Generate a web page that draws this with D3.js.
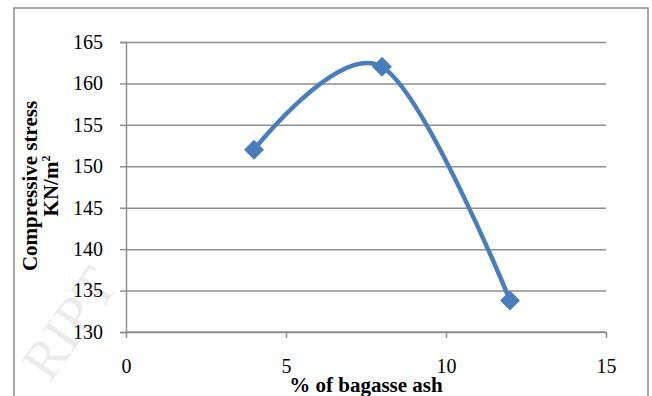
<!DOCTYPE html>
<html>
<head>
<meta charset="utf-8">
<script src="https://cdn.jsdelivr.net/npm/d3@7"></script>
<style>
  html, body { margin: 0; padding: 0; background: #fff; }
  svg { display: block; }
</style>
</head>
<body>
<script>
// Compressive stress versus bagasse ash content
const ashPercent = [4, 8, 12];
const stressValues = [152, 162, 133.8];
const xTicks = [0, 5, 10, 15];
const yTicks = [130, 135, 140, 145, 150, 155, 160, 165];

const W = 652, H = 396;
const svg = d3.select("body").append("svg").attr("width", W).attr("height", H);

const x = d3.scaleLinear().domain([0, 15]).range([126, 606]);
const y = d3.scaleLinear().domain([130, 165]).range([332, 42]);

const font = "'Liberation Serif', 'Times New Roman', serif";
const gridColor = "#8e8e8e";
const blue = "#4a7ebb";

// chart frame
svg.append("rect")
  .attr("x", 14).attr("y", 8).attr("width", 634).attr("height", 400)
  .attr("fill", "none").attr("stroke", "#8a8a8a").attr("stroke-width", 1.5);

// faint watermark
svg.append("text")
  .attr("transform", "translate(50,384) rotate(-55)")
  .attr("font-family", font).attr("font-size", 56)
  .attr("fill", "#000").attr("fill-opacity", 0.08)
  .text("RIPT");

// horizontal gridlines with left ticks
const yAxis = d3.axisLeft(y).tickValues(yTicks).tickSize(6).tickFormat(d3.format("d"));
const gy = svg.append("g").attr("transform", `translate(${x(0)},0)`).call(yAxis);
gy.select(".domain").attr("stroke", gridColor).attr("stroke-width", 1.5);
gy.selectAll(".tick line").attr("stroke", gridColor).attr("stroke-width", 1.5);
gy.selectAll(".tick text")
  .attr("x", -23).attr("font-family", font).attr("font-size", 20).attr("fill", "#000");
gy.selectAll(".tick").append("line")
  .attr("x1", 0).attr("x2", x(15) - x(0))
  .attr("stroke", gridColor).attr("stroke-width", 1.5);

// x axis
const xAxis = d3.axisBottom(x).tickValues(xTicks).tickSize(6).tickFormat(d3.format("d"));
const gx = svg.append("g").attr("transform", `translate(0,${y(130)})`).call(xAxis);
gx.select(".domain").attr("stroke", gridColor).attr("stroke-width", 1.5).attr("d", `M${x(0)},0H${x(15)}`);
gx.selectAll(".tick line").attr("stroke", gridColor).attr("stroke-width", 1.5);
gx.selectAll(".tick text")
  .attr("y", 27).attr("font-family", font).attr("font-size", 20).attr("fill", "#000");

// axis titles
svg.append("text")
  .attr("x", 366).attr("y", 392)
  .attr("text-anchor", "middle")
  .attr("font-family", font).attr("font-size", 21).attr("font-weight", "bold")
  .text("% of bagasse ash");

const yt = svg.append("text")
  .attr("transform", "translate(0,186) rotate(-90)")
  .attr("text-anchor", "middle")
  .attr("font-family", font).attr("font-size", 21).attr("font-weight", "bold");
yt.append("tspan").attr("x", 0).attr("y", 37).text("Compressive stress");
const l2 = yt.append("tspan").attr("x", 0).attr("y", 58).text("KN/m");
l2.append("tspan").attr("font-size", 12).attr("dy", -8).text("2");

// smoothed series line
const pts = ashPercent.map((v, i) => [v, stressValues[i]]);
const line = d3.line()
  .x(d => x(d[0])).y(d => y(d[1]))
  .curve(d3.curveCatmullRom.alpha(0));
svg.append("path")
  .attr("d", line(pts))
  .attr("fill", "none").attr("stroke", blue).attr("stroke-width", 4.5)
  .attr("stroke-linecap", "round");

// diamond markers
const diamond = d3.symbol().type(d3.symbolSquare).size(200);
svg.selectAll(".marker").data(pts).enter().append("path")
  .attr("class", "marker")
  .attr("d", diamond)
  .attr("transform", d => `translate(${x(d[0])},${y(d[1])}) rotate(45)`)
  .attr("fill", blue);
</script>
</body>
</html>
